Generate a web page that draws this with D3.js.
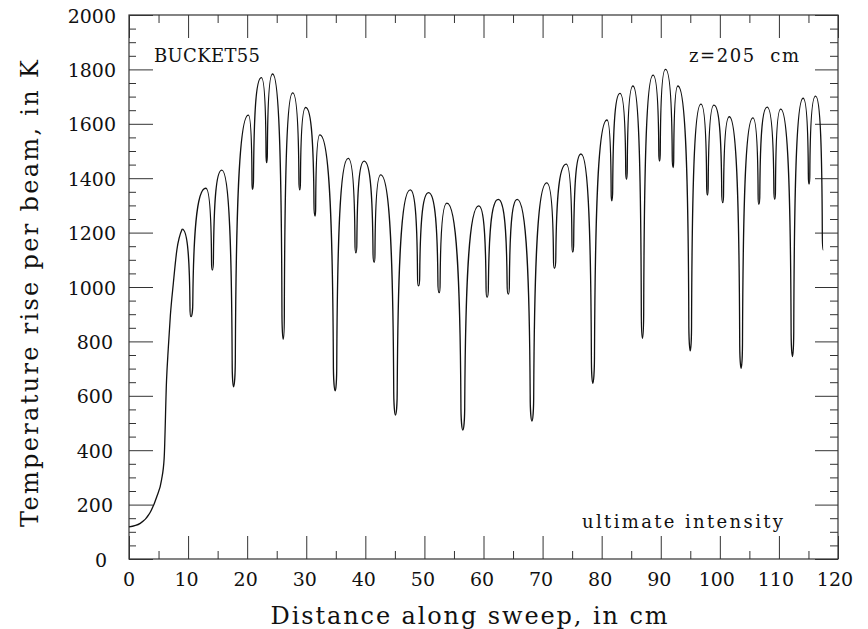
<!DOCTYPE html>
<html lang="en">
<head>
<meta charset="UTF-8">
<title>BUCKET55 temperature rise</title>
<script src="https://cdnjs.cloudflare.com/ajax/libs/d3/7.8.5/d3.min.js"></script>
<style>
  body { margin: 0; background: #fff; }
  svg { display: block; font-family: "DejaVu Serif", serif; }
  text { fill: #111; }
  .tick line { stroke: #333; stroke-width: 1; }
</style>
</head>
<body>
<svg id="chart" width="868" height="629"></svg>
<script>
// axis ticks
const xMajor = [0, 10, 20, 30, 40, 50, 60, 70, 80, 90, 100, 110, 120];
const xMinor = [5, 15, 25, 35, 45, 55, 65, 75, 85, 95, 105, 115];
const yMajor = [0, 200, 400, 600, 800, 1000, 1200, 1400, 1600, 1800, 2000];
const yMinor = [50, 100, 150, 250, 300, 350, 450, 500, 550, 650, 700, 750, 850, 900, 950,
  1050, 1100, 1150, 1250, 1300, 1350, 1450, 1500, 1550, 1650, 1700, 1750, 1850, 1900, 1950];

// initial rise from the edge of the sweep, up to the first peak
const riseX = [0, 1.9, 3.5, 4.7, 5.5, 5.95, 6.35, 6.65, 7.0, 7.5, 8.1, 9.0];
const riseY = [118, 131, 168, 229, 290, 370, 655, 775, 895, 1013, 1136, 1213];

// alternating peaks and dips after the first peak
const extremaX = [9.0, 10.5, 13.0, 14.1, 15.7, 17.7, 20.2, 20.9, 22.4, 23.3, 24.3, 26.1,
  27.7, 28.9, 29.9, 31.5, 32.3, 34.9, 37.1, 38.4, 39.8, 41.5, 42.6, 45.1,
  47.6, 49.0, 50.7, 52.5, 53.8, 56.5, 59.2, 60.6, 62.5, 64.2, 65.7, 68.2,
  70.7, 72.0, 74.0, 75.1, 76.5, 78.5, 80.9, 81.7, 83.1, 84.2, 85.3, 86.9,
  88.7, 89.8, 90.8, 92.1, 92.9, 95.0, 96.8, 97.9, 99.0, 100.5, 101.6, 103.6,
  105.6, 106.6, 108.0, 109.3, 110.3, 112.3, 114.1, 115.1, 116.2, 117.5];
const extremaY = [1213, 891, 1363, 1062, 1430, 633, 1632, 1359, 1770, 1457, 1783, 808,
  1714, 1357, 1660, 1261, 1559, 618, 1473, 1126, 1463, 1091, 1412, 529,
  1357, 1004, 1347, 979, 1308, 474, 1298, 962, 1322, 974, 1322, 507,
  1383, 1069, 1452, 1128, 1489, 646, 1614, 1317, 1712, 1396, 1739, 811,
  1779, 1463, 1800, 1439, 1739, 765, 1672, 1338, 1669, 1310, 1626, 701,
  1622, 1304, 1661, 1322, 1654, 744, 1694, 1378, 1702, 1136];

const svg = d3.select("#chart");
const x = d3.scaleLinear().domain([0, 120]).range([129, 838]);
const y = d3.scaleLinear().domain([0, 2000]).range([559, 15]);

// arches: narrow rounded bottom at each dip, steep walls, flat top at each peak
function archCurve(context) {
  let x0, y0, n = 0;
  return {
    areaStart() {}, areaEnd() {},
    lineStart() { n = 0; },
    lineEnd() {},
    point(px, py) {
      px = +px; py = +py;
      if (n++ === 0) context.moveTo(px, py);
      else if (py < y0) {
        // dip (x0,y0) up to peak (px,py)
        const dx = px - x0, dy = py - y0;
        const kx = x0 + 0.12 * dx, ky = y0 + 0.12 * dy;
        context.bezierCurveTo(x0 + 0.06 * dx, y0, kx, y0 + 0.05 * dy, kx, ky);
        context.bezierCurveTo(kx + 0.05 * (px - kx), ky + 0.55 * (py - ky), kx + 0.25 * (px - kx), py, px, py);
      } else {
        // peak (x0,y0) down to dip (px,py)
        const dx = px - x0, dy = py - y0;
        const kx = px - 0.12 * dx, ky = py - 0.12 * dy;
        context.bezierCurveTo(kx - 0.25 * (kx - x0), y0, kx - 0.05 * (kx - x0), ky + 0.55 * (y0 - ky), kx, ky);
        context.bezierCurveTo(kx, py - 0.05 * dy, px - 0.06 * dx, py, px, py);
      }
      x0 = px; y0 = py;
    }
  };
}

// frame
svg.append("rect")
  .attr("x", x(0)).attr("y", y(2000))
  .attr("width", x(120) - x(0)).attr("height", y(0) - y(2000))
  .attr("fill", "none").attr("stroke", "#333").attr("stroke-width", 1.2);

function ticks(axis, pos, values, size) {
  svg.append("g").attr("transform", pos)
    .call(axis.tickValues(values).tickSize(-size).tickFormat(""))
    .call(g => g.select(".domain").remove());
}
ticks(d3.axisBottom(x), `translate(0,${y(0)})`, xMajor, 23);
ticks(d3.axisBottom(x), `translate(0,${y(0)})`, xMinor, 8);
ticks(d3.axisTop(x), `translate(0,${y(2000)})`, xMajor, 23);
ticks(d3.axisTop(x), `translate(0,${y(2000)})`, xMinor, 8);
ticks(d3.axisLeft(y), `translate(${x(0)},0)`, yMajor, 24);
ticks(d3.axisLeft(y), `translate(${x(0)},0)`, yMinor, 7);
ticks(d3.axisRight(y), `translate(${x(120)},0)`, yMajor, 23);
ticks(d3.axisRight(y), `translate(${x(120)},0)`, yMinor, 8);

// tick labels
svg.append("g").selectAll("text").data(xMajor).join("text")
  .attr("x", d => x(d) - 1.5 * (String(d).length - 1))
  .attr("y", 586)
  .attr("text-anchor", "middle")
  .attr("font-size", 19)
  .text(d => d);

svg.append("g").selectAll("text").data(yMajor).join("text")
  .attr("x", d => 104 + 3 * String(d).length)
  .attr("y", d => y(d) + 7.5)
  .attr("text-anchor", "end")
  .attr("font-size", 19)
  .text(d => d);

// axis titles
svg.append("text")
  .attr("x", 469).attr("y", 624)
  .attr("text-anchor", "middle")
  .attr("font-size", 24)
  .attr("textLength", 397).attr("lengthAdjust", "spacing")
  .text("Distance along sweep, in cm");

svg.append("text")
  .attr("transform", "translate(38,293.5) rotate(-90)")
  .attr("text-anchor", "middle")
  .attr("font-size", 24)
  .attr("textLength", 467).attr("lengthAdjust", "spacing")
  .text("Temperature rise per beam, in K");

// annotations
svg.append("text")
  .attr("x", 154).attr("y", 62)
  .attr("font-size", 18)
  .attr("textLength", 106).attr("lengthAdjust", "spacing")
  .text("BUCKET55");

svg.append("text")
  .attr("x", 689).attr("y", 62)
  .attr("font-size", 18)
  .style("white-space", "pre")
  .attr("textLength", 110).attr("lengthAdjust", "spacing")
  .text("z=205  cm");

svg.append("text")
  .attr("x", 582).attr("y", 528)
  .attr("font-size", 18)
  .attr("textLength", 201).attr("lengthAdjust", "spacing")
  .text("ultimate intensity");

// curve
const rise = riseX.map((d, i) => [d, riseY[i]]);
const arches = extremaX.map((d, i) => [d, extremaY[i]]);

svg.append("path")
  .datum(rise)
  .attr("fill", "none").attr("stroke", "#111").attr("stroke-width", 1.3)
  .attr("d", d3.line().x(d => x(d[0])).y(d => y(d[1])).curve(d3.curveMonotoneX));

svg.append("path")
  .datum(arches)
  .attr("fill", "none").attr("stroke", "#111").attr("stroke-width", 1.3)
  .attr("d", d3.line().x(d => x(d[0])).y(d => y(d[1])).curve(archCurve));
</script>
</body>
</html>
